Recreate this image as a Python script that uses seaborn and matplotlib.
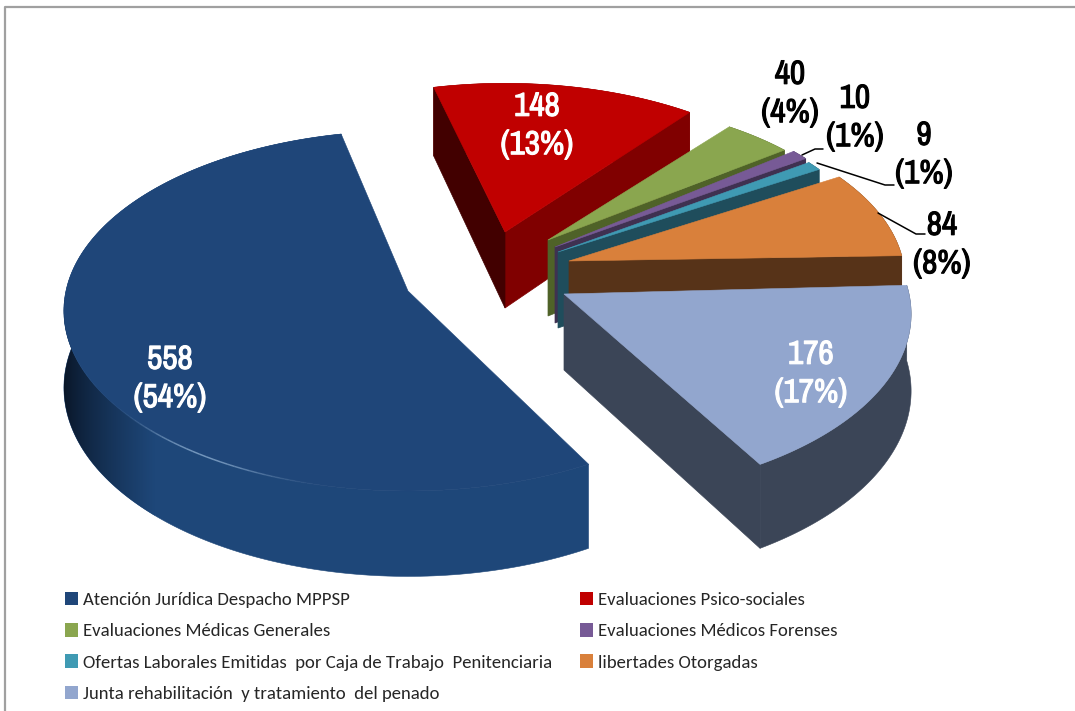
import numpy as np
import matplotlib
matplotlib.use("Agg")
import matplotlib.pyplot as plt
import matplotlib.patheffects as pe
import seaborn as sns
from matplotlib.collections import LineCollection
from matplotlib.patches import Patch, Polygon
from matplotlib.colors import to_rgb

# data
categorias = [
    "Atención Jurídica Despacho MPPSP",
    "Evaluaciones Psico-sociales",
    "Evaluaciones Médicas Generales",
    "Evaluaciones Médicos Forenses",
    "Ofertas Laborales Emitidas  por Caja de Trabajo  Penitenciaria",
    "libertades Otorgadas",
    "Junta rehabilitación  y tratamiento  del penado",
]
valores = [558, 148, 40, 10, 9, 84, 176]
porcentajes = [54, 13, 4, 1, 1, 8, 17]

# colours
colores_top = ["#1F4679", "#C00000", "#8AA64F", "#775A96", "#3F9AB3", "#D9803B", "#92A6CE"]
colores_lado = ["#1E4779", "#800000", "#4F6228", "#3F3151", "#1F4D5C", "#573318", "#3B4557"]

# layout of every slice on the canvas (pixels)
centros = [(408, 291), (505, 232), (548, 240), (555, 247), (558, 252), (569, 261), (564, 294)]
radios_x = [342, 326, 320, 323, 323, 334, 345]
radios_y = [178, 165, 156, 166, 168, 171, 180]
giro = [-1.5, 0, 0, 0, 0, 0, 1]  # small turn per exploded slice, degrees
persp = 0.11
alto = 76
inicio = 14

# label positions
pos_etiq = [(170, 379), (537, 126), (790, 94), (855, 118), (924, 155), (942, 245), (811, 374)]
color_etiq = ["white", "white", "black", "black", "black", "black", "white"]
guias = {
    3: [(802, 155), (815, 149), (823, 149)],
    4: [(817, 163), (885, 185), (894, 185)],
    5: [(878, 213), (916, 234), (925, 234)],
}


def proyecta(i, th, z=0.0):
    th = np.radians(th)
    u, v = -np.sin(th), -np.cos(th)
    s = 1 / (1 - persp * v)
    cx, cy = centros[i]
    return cx + radios_x[i] * u * s, cy + (radios_y[i] * v + alto * z) * s


def pared(i, th, color, z):
    # flat wall from the slice centre out to the rim at angle th
    cx, cy = centros[i]
    xa, ya = proyecta(i, th)
    xb, yb = proyecta(i, th, 1.0)
    ax.fill([cx, xa, xb, cx], [cy, ya, yb, cy + alto], color=color, lw=0.5, zorder=z)


sns.set_theme(style="white")
paleta = sns.color_palette(colores_top)

fig = plt.figure(figsize=(10.75, 7.11), dpi=100)
ax = fig.add_axes([0, 0, 1, 1])

# outer frame
ax.plot([5, 5, 1075], [711, 7, 7], color="#A0A0A0", lw=1.6, zorder=1)

angulos = np.cumsum([0] + valores) / sum(valores) * 360
orden = [1, 2, 3, 4, 5, 0, 6]

for i in orden:
    a1 = inicio + angulos[1] - angulos[i] + giro[i]
    a0 = inicio + angulos[1] - angulos[i + 1] + giro[i]
    ths = np.linspace(a0, a1, 200)
    z = 2 + orden.index(i)

    # rim
    xt, yt = proyecta(i, ths)
    xb, yb = proyecta(i, ths, 1.0)
    borde = np.c_[np.r_[xt, xb[::-1]], np.r_[yt, yb[::-1]]]
    ax.fill(borde[:, 0], borde[:, 1], color=colores_lado[i], lw=0.4, zorder=z)

    # dark fade on the left of the big slice rim
    if i == 0:
        t = np.linspace(0, 1, 256) ** 0.7
        base = np.array(to_rgb(colores_lado[0]))
        grad = (np.array([0.03, 0.07, 0.13])[None, :] * (1 - t)[:, None] + base[None, :] * t[:, None])[None, :, :]
        img = ax.imshow(grad, extent=(62, 155, 600, 300), aspect="auto", zorder=z + 0.1, interpolation="bilinear")
        img.set_clip_path(Polygon(borde, closed=True, transform=ax.transData))

    # radial walls
    if i != 0:
        pared(i, a0, colores_lado[i], z + 0.2)
    if i == 1:
        pared(i, a1, "#420000", z + 0.2)

    # top face
    cx, cy = centros[i]
    ax.fill(np.r_[cx, xt], np.r_[cy, yt], color=paleta[i], lw=0.4, zorder=z + 0.5)

    # thin highlight on the front edge of the big slice
    if i == 0:
        hl = np.linspace(122, 172, 40)
        xh, yh = proyecta(0, hl)
        segs = [[(xh[k], yh[k]), (xh[k + 1], yh[k + 1])] for k in range(len(hl) - 1)]
        alf = np.sin(np.linspace(0, np.pi, len(segs))) ** 3 * 0.6
        ax.add_collection(LineCollection(segs, colors=[(0.65, 0.78, 0.9, a) for a in alf], linewidths=1.1, zorder=z + 0.6))

ax.set_xlim(0, 1075)
ax.set_ylim(711, 0)
ax.axis("off")

# leader lines
for i, pts in guias.items():
    ax.plot([p[0] for p in pts], [p[1] for p in pts], color="black", lw=1.1, zorder=20)

# value labels, the narrow face only has a regular weight so thicken it with a stroke
for i, (x, y) in enumerate(pos_etiq):
    ax.text(x, y, f"{valores[i]}\n({porcentajes[i]}%)", color=color_etiq[i], ha="center", va="center",
            family=["Archivo Narrow", "Liberation Sans"], weight="bold", fontsize=24,
            linespacing=1.35, zorder=21,
            path_effects=[pe.withStroke(linewidth=0.8, foreground=color_etiq[i])])

# legend
orden_ley = [0, 2, 4, 6, 1, 3, 5]
handles = [Patch(facecolor=paleta[i], edgecolor="none", label=categorias[i]) for i in orden_ley]
ax.legend(handles=handles, ncols=2, frameon=False, loc="upper left", bbox_to_anchor=(65, 591.5),
          bbox_transform=ax.transData, prop={"family": ["Carlito", "Lato"], "size": 13.5},
          handlelength=0.7, handleheight=0.75, handletextpad=0.26, labelspacing=0.8,
          columnspacing=1.5, borderpad=0, borderaxespad=0)

fig.savefig("out.png", dpi=100)
